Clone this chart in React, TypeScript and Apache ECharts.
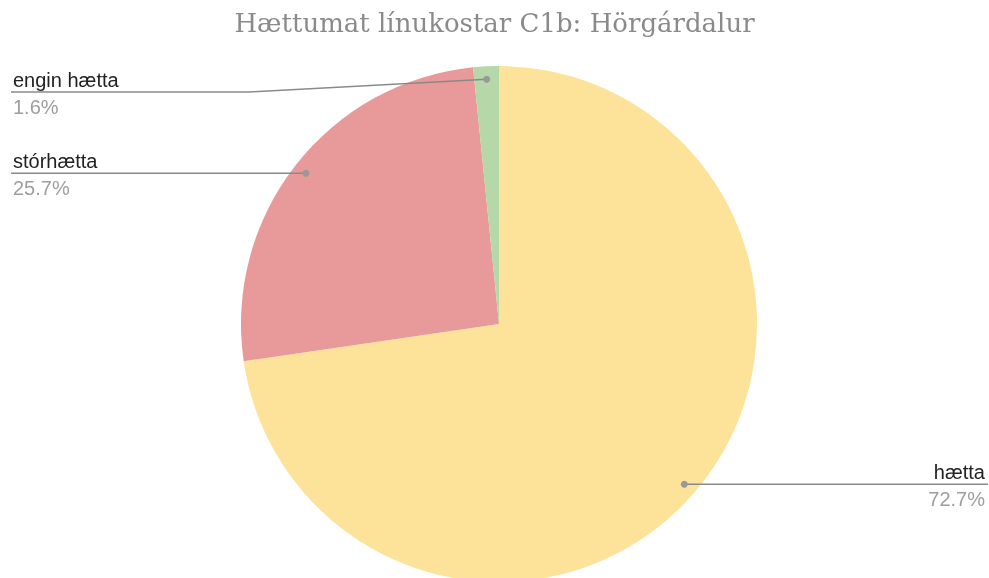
import React, { useEffect, useRef } from 'react';
import * as echarts from 'echarts';

const TITLE = 'Hættumat línukostar C1b: Hörgárdalur';
const CATEGORIES = ['hætta', 'stórhætta', 'engin hætta'];
const VALUES = [72.7, 25.7, 1.6];
const COLORS = ['#FDE29A', '#E8999A', '#B6D7A8'];

const W = 989;
const H = 578;
const CX = 499;
const CY = 324;
const R = 258;
const LABEL_R = 245;

export default function App() {
  const ref = useRef<HTMLDivElement>(null);
  useEffect(() => {
    document.body.style.margin = '0';
    const chart = echarts.init(ref.current!, null, { renderer: 'svg' });
    const total = VALUES.reduce((a, b) => a + b, 0);
    const data = CATEGORIES.map((name, i) => ({ name, value: VALUES[i], itemStyle: { color: COLORS[i] } }));
    const pieTop = CY - R;
    const box = { left: 0, top: 0, width: 998, height: H };

    chart.setOption({
      animation: false,
      title: {
        text: TITLE,
        left: 'center',
        top: 10,
        padding: 0,
        textStyle: {
          fontFamily: 'DejaVu Serif',
          fontSize: 26,
          fontWeight: 'normal',
          color: '#8a8a8a',
        },
      },
      series: [
        {
          type: 'pie',
          ...box,
          center: [CX, CY],
          radius: R,
          startAngle: 90,
          clockwise: true,
          silent: true,
          data,
          label: { show: false },
          labelLine: { show: false },
          emphasis: { disabled: true },
        },
        {
          type: 'pie',
          ...box,
          center: [CX, CY],
          radius: LABEL_R,
          startAngle: 90,
          clockwise: true,
          silent: true,
          z: 3,
          data: data.map((d) => ({ ...d, itemStyle: { color: 'rgba(0,0,0,0)' } })),
          emphasis: { disabled: true },
          label: {
            show: true,
            position: 'outside',
            alignTo: 'edge',
            edgeDistance: 13,
            formatter: (p: any) => `{n|${p.name}}\n{p|${p.percent.toFixed(1)}%}`,
            rich: {
              n: { fontFamily: 'Liberation Sans', fontSize: 20, color: '#222222', lineHeight: 30 },
              p: { fontFamily: 'Liberation Sans', fontSize: 20, color: '#9e9e9e', lineHeight: 24 },
            },
          },
          labelLine: {
            show: true,
            length: 0,
            length2: 0,
            lineStyle: { color: '#8a8a8a', width: 1.5 },
          },
          labelLayout: (p: any) => {
            const pts = p.labelLinePoints;
            const rect = p.labelRect;
            if (!pts || !rect) return {};
            const start = pts[0];
            const isLeft = rect.x + rect.width / 2 < start[0];
            const y = Math.max(start[1], pieTop + 26);
            const outer = isLeft ? rect.x - 2 : rect.x + rect.width + 3;
            const bend = Math.abs(start[1] - y) < 1 ? start[0] : (start[0] + outer) / 2;
            return { y, labelLinePoints: [start, [bend, y], [outer, y]] };
          },
        },
        {
          type: 'custom',
          coordinateSystem: 'none',
          silent: true,
          z: 10,
          data: VALUES.map((v) => [v]),
          renderItem: (params: any) => {
            const i = params.dataIndex;
            const before = VALUES.slice(0, i).reduce((a, b) => a + b, 0);
            const mid = ((before + VALUES[i] / 2) / total) * 2 * Math.PI;
            return {
              type: 'circle',
              shape: { cx: CX + LABEL_R * Math.sin(mid), cy: CY - LABEL_R * Math.cos(mid), r: 3.5 },
              style: { fill: '#999999' },
            };
          },
        },
      ],
    });
    return () => chart.dispose();
  }, []);

  return <div ref={ref} style={{ position: 'fixed', left: 0, top: 0, width: W, height: H }} />;
}
